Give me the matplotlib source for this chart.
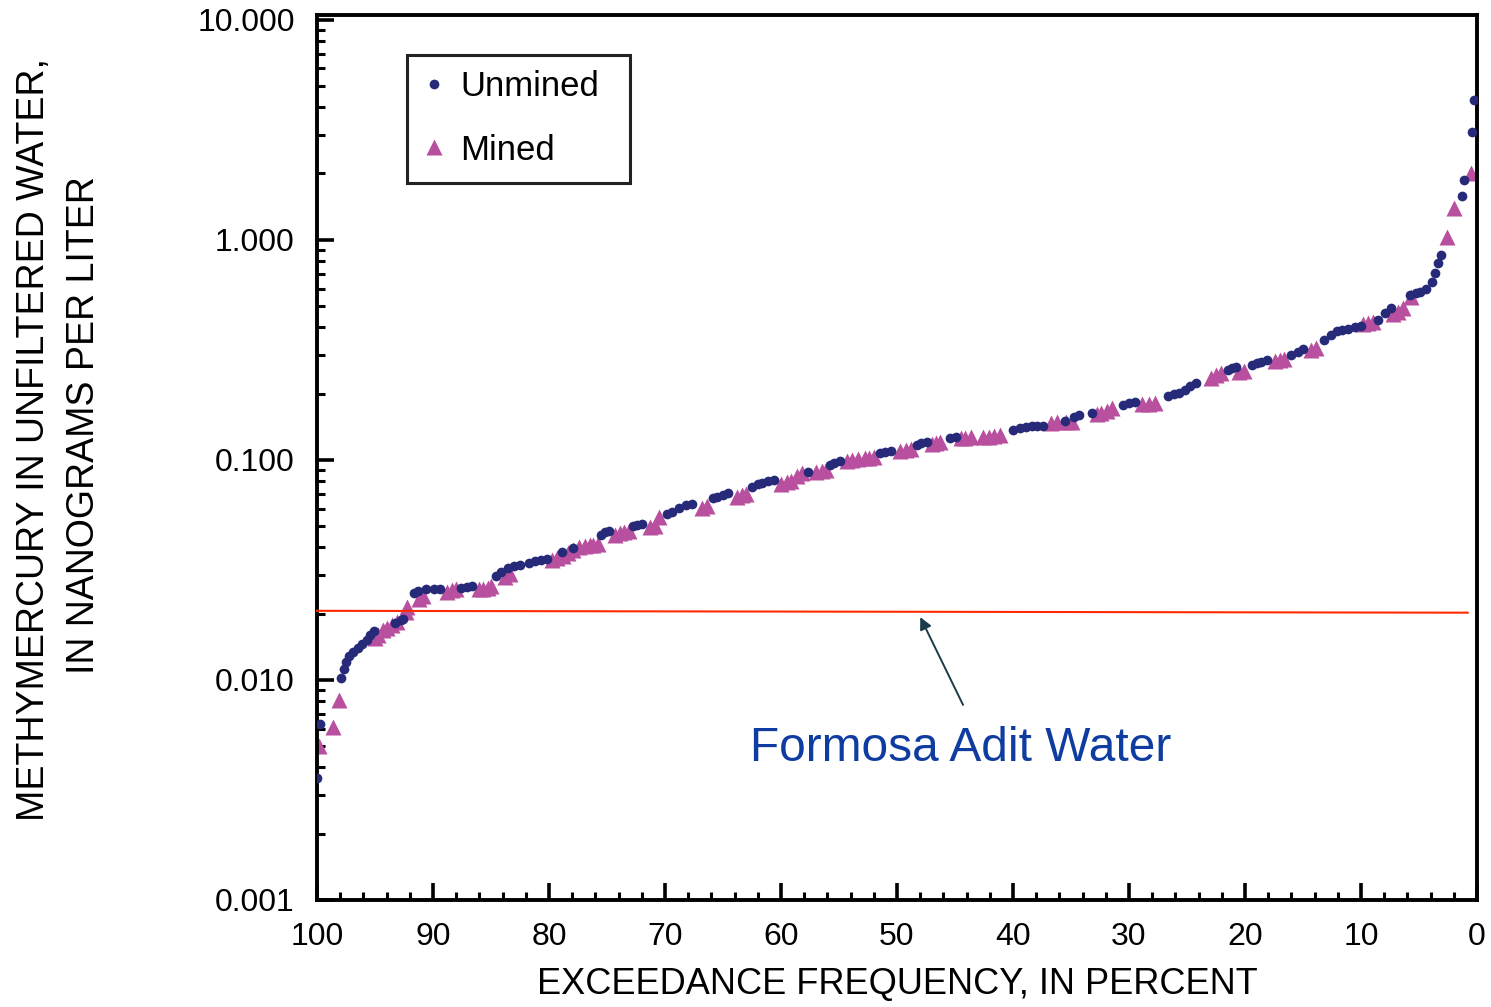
import numpy as np
import matplotlib
matplotlib.use("Agg")
import matplotlib.pyplot as plt
from matplotlib.patches import Rectangle
from matplotlib.ticker import FixedLocator, NullFormatter, LogLocator

# ---- data ----
unmined_x = [100.0, 99.7, 97.9, 97.7, 97.5, 97.2, 96.9, 96.5, 96.1, 95.7, 95.4, 95.1,
             93.3, 92.8, 92.6, 91.6, 91.3, 90.6, 89.9, 89.4, 87.6, 87.1, 86.6, 84.6,
             84.1, 83.5, 83.0, 82.5, 81.7, 81.2, 80.7, 80.2, 78.9, 77.9, 75.5, 75.2,
             74.8, 72.8, 72.4, 72.0, 69.8, 69.4, 68.8, 68.2, 67.7, 65.9, 65.5, 65.0,
             64.6, 62.5, 62.0, 61.6, 61.1, 60.6, 57.7, 55.8, 55.4, 54.9, 51.5, 51.0,
             50.5, 48.3, 47.9, 47.4, 45.4, 44.9, 40.0, 39.4, 38.9, 38.4, 37.9, 37.4,
             35.5, 34.7, 34.3, 33.2, 30.5, 30.0, 29.5, 26.6, 26.1, 25.7, 25.2, 24.7,
             24.2, 21.5, 21.1, 20.8, 19.4, 19.0, 18.6, 18.1, 16.0, 15.4, 15.0, 13.2,
             12.6, 12.1, 11.6, 11.1, 10.5, 10.0, 8.5, 7.9, 7.4, 5.8, 5.3, 4.9, 4.4,
             3.9, 3.6, 3.4, 3.1, 1.3, 1.1, 0.4, 0.3]
unmined_y = [0.0036, 0.0063, 0.0102, 0.0112, 0.0121, 0.0128, 0.0134, 0.0139, 0.0145,
             0.0152, 0.0160, 0.0166, 0.0182, 0.0187, 0.0190, 0.0248, 0.0253, 0.0258,
             0.0259, 0.0259, 0.0262, 0.0265, 0.0266, 0.0298, 0.0310, 0.0322, 0.0330,
             0.0333, 0.0340, 0.0347, 0.0351, 0.0355, 0.0380, 0.0398, 0.0455, 0.0470,
             0.0475, 0.0500, 0.0507, 0.0510, 0.0565, 0.0580, 0.0605, 0.0624, 0.0630,
             0.0670, 0.0680, 0.0693, 0.0705, 0.0755, 0.0775, 0.0786, 0.0800, 0.0810,
             0.0880, 0.0950, 0.0969, 0.0985, 0.1070, 0.1087, 0.1100, 0.1170, 0.1190,
             0.1200, 0.1250, 0.1270, 0.1370, 0.1390, 0.1410, 0.1420, 0.1425, 0.1430,
             0.1500, 0.1560, 0.1600, 0.1640, 0.1780, 0.1820, 0.1830, 0.1940, 0.1990,
             0.2020, 0.2080, 0.2160, 0.2240, 0.2550, 0.2600, 0.2650, 0.2700, 0.2750,
             0.2790, 0.2850, 0.3000, 0.3100, 0.3200, 0.3500, 0.3700, 0.3850, 0.3900,
             0.3950, 0.4000, 0.4050, 0.4300, 0.4660, 0.4900, 0.5620, 0.5700, 0.5800,
             0.6000, 0.6400, 0.7080, 0.7860, 0.8550, 1.585, 1.870, 3.10, 4.33]

mined_x = [99.8, 98.6, 98.1, 95.0, 94.7, 94.3, 94.0, 93.5, 93.1, 92.3, 92.2, 91.2,
           90.9, 88.8, 88.4, 88.0, 86.0, 85.7, 85.3, 85.0, 83.8, 83.4, 79.7, 79.3,
           78.8, 78.4, 77.9, 77.4, 76.9, 76.5, 76.2, 75.8, 74.3, 73.9, 73.5, 73.1,
           71.3, 70.9, 70.5, 66.8, 66.4, 63.8, 63.4, 63.0, 60.0, 59.5, 59.1, 58.6,
           58.2, 57.0, 56.5, 56.1, 54.3, 53.9, 53.4, 52.8, 52.4, 52.0, 49.7, 49.2,
           48.8, 47.0, 46.6, 46.3, 44.5, 44.1, 43.6, 42.6, 42.1, 41.6, 41.1, 36.7,
           36.2, 35.4, 34.9, 32.8, 32.4, 31.9, 31.5, 28.9, 28.3, 27.8, 22.9, 22.5,
           22.1, 20.5, 20.1, 17.4, 17.0, 16.6, 14.3, 13.9, 9.8, 9.4, 9.0, 7.2, 6.8,
           6.4, 5.7, 2.6, 2.0, 0.5]
mined_y = [0.0050, 0.0061, 0.0081, 0.0155, 0.0160, 0.0168, 0.0172, 0.0177, 0.0183,
           0.0203, 0.0215, 0.0232, 0.0240, 0.0252, 0.0257, 0.0258, 0.0258, 0.0260,
           0.0262, 0.0266, 0.0292, 0.0302, 0.0350, 0.0358, 0.0365, 0.0378, 0.0390,
           0.0403, 0.0405, 0.0408, 0.0412, 0.0415, 0.0455, 0.0466, 0.0470, 0.0475,
           0.0495, 0.0500, 0.0550, 0.0607, 0.0615, 0.0680, 0.0693, 0.0700, 0.0780,
           0.0790, 0.0800, 0.0845, 0.0873, 0.0880, 0.0890, 0.0900, 0.0990, 0.1000,
           0.1010, 0.1015, 0.1020, 0.1030, 0.1100, 0.1110, 0.1120, 0.1180, 0.1190,
           0.1200, 0.1250, 0.1260, 0.1265, 0.1268, 0.1270, 0.1280, 0.1290, 0.1470,
           0.1490, 0.1490, 0.1490, 0.1620, 0.1630, 0.1670, 0.1720, 0.1790, 0.1800,
           0.1820, 0.2350, 0.2430, 0.2480, 0.2500, 0.2520, 0.2800, 0.2840, 0.2870,
           0.3150, 0.3230, 0.4150, 0.4200, 0.4250, 0.4600, 0.4700, 0.4900, 0.5500,
           1.03, 1.40, 2.02]

adit_x = [100.0, 0.8]
adit_y = [0.0206, 0.0202]

y_ticks = [0.001, 0.01, 0.1, 1, 10]
y_ticklabels = ["0.001", "0.010", "0.100", "1.000", "10.000"]
x_major = list(range(0, 101, 10))
x_minor = list(range(0, 101, 2))

# ---- style ----
plt.rcParams["font.family"] = ["Liberation Sans", "DejaVu Sans"]

NAVY = "#262a78"
PINK = "#b94f9f"

fig = plt.figure(figsize=(14.91, 10.07), dpi=100)
ax = fig.add_axes([0.2126, 0.1063, 0.778, 0.8788])

ax.plot(unmined_x, unmined_y, "o", color=NAVY, ms=7, mec="none",
        label="Unmined", zorder=3)
ax.plot(mined_x, mined_y, "^", color=PINK, ms=12, mec="none",
        label="Mined", zorder=2)
ax.plot(adit_x, adit_y, color="#ff2a00", lw=1.5, zorder=4, clip_on=False)

ax.set_yscale("log")
ax.set_ylim(0.001, 10.5)
ax.set_xlim(100, 0)

ax.yaxis.set_major_locator(FixedLocator(y_ticks))
ax.set_yticklabels(y_ticklabels)
ax.yaxis.set_minor_locator(LogLocator(base=10, subs=np.arange(2, 10)))
ax.yaxis.set_minor_formatter(NullFormatter())
ax.set_xticks(x_major)
ax.set_xticks(x_minor, minor=True)
ax.set_xticklabels([str(v) for v in x_major])

for s in ax.spines.values():
    s.set_linewidth(2.8)
ax.tick_params(which="major", direction="in", length=12, width=2.6,
               labelsize=23, pad=16)
ax.tick_params(which="minor", direction="in", length=6, width=2.2)
ax.tick_params(top=False, right=False, which="both")

# arrow + label for the adit water level
ax.annotate("", xy=(48.1, 0.0198), xytext=(44.2, 0.0075),
            arrowprops=dict(arrowstyle="-|>", color="#1c3b4a", lw=1.4,
                            mutation_scale=18))
ax.text(44.5, 0.0049, "Formosa Adit Water", color="#0f3ca0", fontsize=34.5,
        ha="center", va="center")

# legend: frame drawn by hand so its padding matches
ax.add_patch(Rectangle((0.078, 0.81), 0.192, 0.145, transform=ax.transAxes,
                       fill=False, ec="#222222", lw=2.2, zorder=5))
leg = ax.legend(loc="upper left", bbox_to_anchor=(0.078, 0.948),
                borderaxespad=0, fontsize=25, frameon=False,
                handletextpad=0.27, labelspacing=0.89, borderpad=0.25,
                handlelength=1.0)

ax.set_xlabel("EXCEEDANCE FREQUENCY, IN PERCENT", fontsize=26)
ax.xaxis.set_label_coords(0.5, -0.076)
fig.text(34 / 1491, 1 - 440 / 1007, "METHYMERCURY IN UNFILTERED WATER,",
         rotation=90, fontsize=27, ha="center", va="center")
fig.text(84 / 1491, 1 - 425 / 1007, "IN NANOGRAMS PER LITER",
         rotation=90, fontsize=27, ha="center", va="center")

fig.savefig("out.png", dpi=100)
